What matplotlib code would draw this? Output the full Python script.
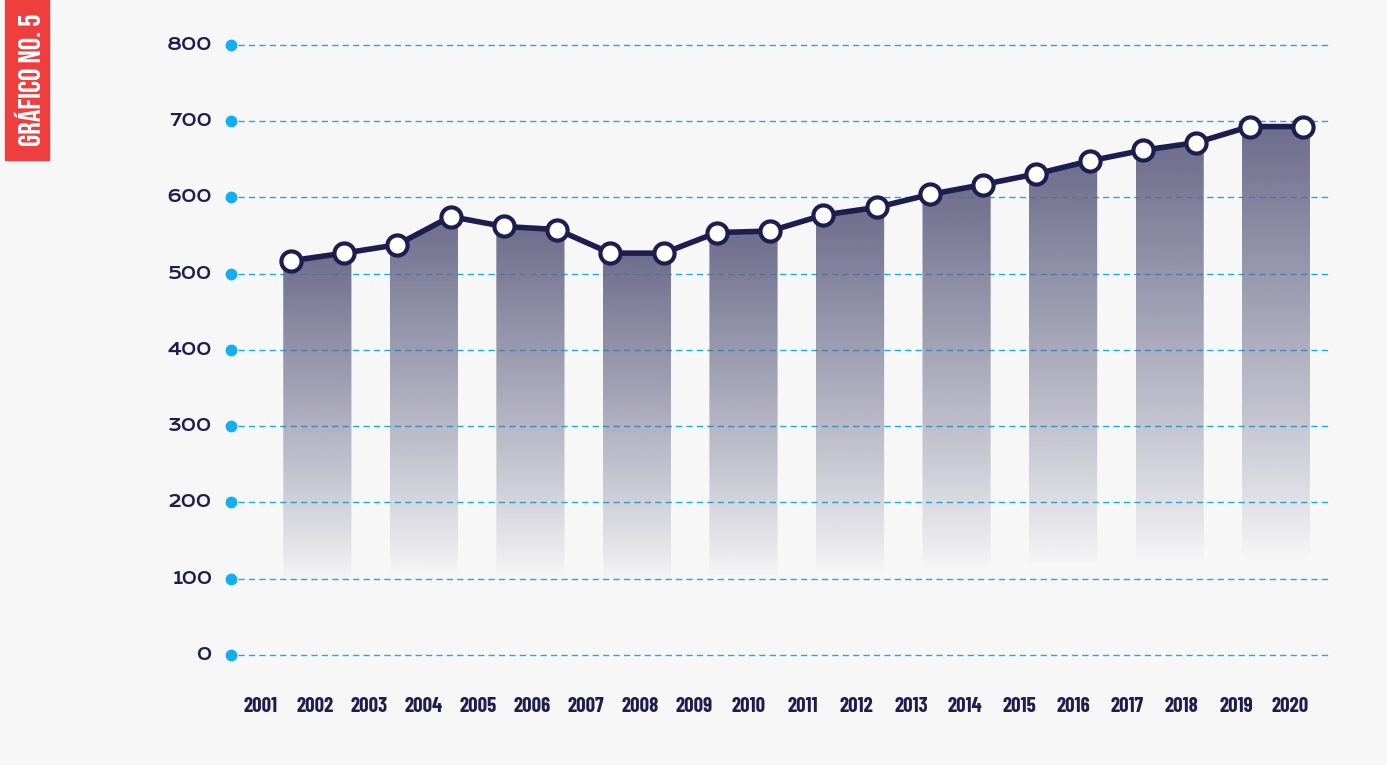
import numpy as np
import matplotlib.pyplot as plt
from matplotlib.patches import Polygon, Rectangle

# -------- data --------
years = [str(y) for y in range(2001, 2021)]
values = [517, 527, 538, 575, 562, 558, 527, 527, 554, 556,
          577, 587, 604, 617, 631, 648, 662, 672, 693, 693]
y_ticks = [0, 100, 200, 300, 400, 500, 600, 700, 800]

BG = "#f7f7f7"
NAVY = "#1d1e4f"
BAR = (0.40, 0.40, 0.53)
BLUE = "#14adee"
RED = "#ee3e3e"
TAG_FONT = ["Bebas Neue", "Oswald", "IBM Plex Sans Condensed", "DejaVu Sans"]
YEAR_FONT = ["Barlow Condensed", "Roboto Condensed", "IBM Plex Sans Condensed", "DejaVu Sans"]
NUM_FONT = ["Krona One", "Syncopate", "Michroma", "DejaVu Sans"]

# pixel layout: point i sits at X0 + DX * i
X0, DX = 290.7, 53.27


def px(xp):
    return (xp - X0) / DX


fig = plt.figure(figsize=(13.87, 7.65), dpi=100, facecolor=BG)
ax = fig.add_axes([0, 0, 1, 1])
ax.set_facecolor(BG)
ax.axis("off")

x = np.arange(len(values))

# grid lines, dots and y labels
for t in y_ticks:
    ax.plot([px(238), px(1328)], [t, t], ls=(0, (4.5, 3)), color=BLUE, lw=1, zorder=1)
    ax.plot(px(231), t, "o", color=BLUE, ms=8.5, mec="none", zorder=2)
    ax.text(px(212), t, str(t), ha="right", va="center", color=NAVY,
            fontsize=12, fontweight="bold", family=NUM_FONT)

# gradient bars under pairs of points
for k in range(0, len(values), 2):
    x0, x1 = x[k] - 0.14, x[k + 1] + 0.14
    v0, v1 = values[k], values[k + 1]
    top = max(v0, v1)
    bottom = 0.18 * top
    poly = Polygon([(x0, 0), (x0, v0), (x[k], v0), (x[k + 1], v1), (x1, v1), (x1, 0)],
                   closed=True, fc="none", ec="none")
    ax.add_patch(poly)
    v = np.linspace(top, 0, 300)
    alpha = np.clip((v - bottom) / (top - bottom), 0, 1) ** 0.9 * 0.95
    img = np.zeros((300, 2, 4))
    img[..., 0], img[..., 1], img[..., 2] = BAR
    img[..., 3] = alpha[:, None]
    im = ax.imshow(img, extent=[x0, x1, 0, top], origin="upper", aspect="auto",
                   interpolation="bilinear", zorder=2)
    im.set_clip_path(poly)

# line
ax.plot(x, values, color=NAVY, lw=4, marker="o", ms=14.5, mfc="white",
        mec=NAVY, mew=3, zorder=4, solid_capstyle="round")

# x labels
for pos, lab in zip(np.linspace(px(261), px(1290), len(years)), years):
    ax.text(pos, -68, lab, ha="center", va="center", color=NAVY,
            fontsize=15, fontweight="bold", family=YEAR_FONT)

ax.set_xlim(px(0), px(1387))
ax.set_ylim(-144.3, 859)

# red tag on the left
fig.patches.append(Rectangle((5 / 1387, 605 / 765), 44 / 1387, 160 / 765,
                             transform=fig.transFigure, color=RED, zorder=0))
fig.text(28 / 1387, 1 - 80 / 765, "GRÁFICO NO. 5", rotation=90, ha="center",
         va="center", color="white", fontsize=22.5, family=TAG_FONT)

fig.savefig("out.png", dpi=100, facecolor=BG)
